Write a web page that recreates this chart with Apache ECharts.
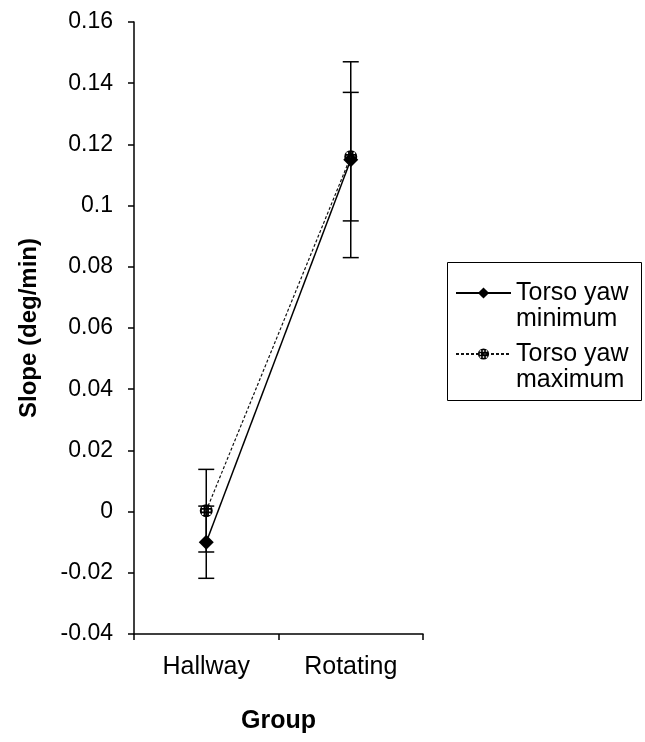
<!DOCTYPE html>
<html>
<head>
<meta charset="utf-8">
<script src="https://cdn.jsdelivr.net/npm/echarts@6/dist/echarts.min.js"></script>
<style>
  html, body { margin: 0; padding: 0; background: #fff; }
  #chart { width: 645px; height: 742px; }
</style>
</head>
<body>
<div id="chart"></div>
<script>
const groups = ['Hallway', 'Rotating'];
const yawMin = [-0.01, 0.115];
const yawMinErr = [0.0118, 0.032];
const yawMax = [0.0003, 0.116];
const yawMaxErr = [0.0135, 0.021];
const yMin = -0.04, yMax = 0.16, yStep = 0.02;

const FONT = '"Liberation Sans", Arial, sans-serif';

// dark dot with a grid of small holes, like the cross-hatched marker
function hatchSymbol() {
    let d = 'M0 3.5a3.5 3.5 0 1 0 7 0a3.5 3.5 0 1 0 -7 0z';
    [1.6, 3.5, 5.4].forEach(x => {
        [1.6, 3.5, 5.4].forEach(y => {
            d += `M${x - 0.45} ${y - 0.45}h0.9v0.9h-0.9z`;
        });
    });
    return 'path://' + d;
}

function errData(vals, errs) {
    return vals.map((v, i) => [i, v - errs[i], v + errs[i]]);
}

function renderErr(params, api) {
    const lo = api.coord([api.value(0), api.value(1)]);
    const hi = api.coord([api.value(0), api.value(2)]);
    const w = 8;
    const st = { stroke: '#000', lineWidth: 1.5 };
    return {
        type: 'group',
        children: [
            { type: 'line', shape: { x1: lo[0], y1: lo[1], x2: hi[0], y2: hi[1] }, style: st },
            { type: 'line', shape: { x1: lo[0] - w, y1: lo[1], x2: lo[0] + w, y2: lo[1] }, style: st },
            { type: 'line', shape: { x1: hi[0] - w, y1: hi[1], x2: hi[0] + w, y2: hi[1] }, style: st }
        ]
    };
}

const chart = echarts.init(document.getElementById('chart'), null, { renderer: 'canvas' });

const option = {
    animation: false,
    backgroundColor: '#fff',
    textStyle: { fontFamily: FONT, color: '#000' },
    grid: { left: 134, right: 222, top: 22, bottom: 108, containLabel: false },
    legend: {
        data: ['Torso yaw minimum', 'Torso yaw maximum'],
        orient: 'vertical',
        left: 455,
        top: 254,
        padding: 0,
        itemGap: -17,
        itemWidth: 55,
        itemHeight: 14,
        // blank first line so the icon sits level with "Torso yaw"
        formatter: name => ' \n' + name.replace(' yaw ', ' yaw\n'),
        textStyle: { fontFamily: FONT, fontSize: 25, lineHeight: 26, color: '#000' }
    },
    graphic: [{
        type: 'rect',
        shape: { x: 447.5, y: 262.5, width: 194, height: 138 },
        style: { fill: 'none', stroke: '#000', lineWidth: 1 }
    }],
    xAxis: {
        type: 'category',
        data: groups,
        name: 'Group',
        nameLocation: 'middle',
        nameGap: 75,
        nameTextStyle: { fontFamily: FONT, fontSize: 25, fontWeight: 'bold', color: '#000' },
        axisLine: { onZero: false, lineStyle: { color: '#000', width: 1.5 } },
        axisTick: { show: true, length: 6, lineStyle: { color: '#000', width: 1.5 } },
        axisLabel: { fontFamily: FONT, fontSize: 25, color: '#000', margin: 21 },
        splitLine: { show: false }
    },
    yAxis: {
        type: 'value',
        min: yMin,
        max: yMax,
        interval: yStep,
        name: 'Slope (deg/min)',
        nameLocation: 'middle',
        nameGap: 93,
        nameTextStyle: { fontFamily: FONT, fontSize: 24, fontWeight: 'bold', color: '#000' },
        axisLine: { show: true, lineStyle: { color: '#000', width: 1.5 } },
        axisTick: { show: true, length: 6, lineStyle: { color: '#000', width: 1.5 } },
        axisLabel: { fontFamily: FONT, fontSize: 23, color: '#000', margin: 21 },
        splitLine: { show: false }
    },
    series: [
        {
            name: 'err min',
            type: 'custom',
            renderItem: renderErr,
            data: errData(yawMin, yawMinErr),
            encode: { x: 0, y: [1, 2] },
            z: 1,
            silent: true
        },
        {
            name: 'err max',
            type: 'custom',
            renderItem: renderErr,
            data: errData(yawMax, yawMaxErr),
            encode: { x: 0, y: [1, 2] },
            z: 1,
            silent: true
        },
        {
            name: 'Torso yaw minimum',
            type: 'line',
            data: yawMin,
            symbol: 'diamond',
            symbolSize: 15,
            itemStyle: { color: '#000', borderWidth: 0 },
            lineStyle: { color: '#000', width: 1.5 },
            z: 2
        },
        {
            name: 'Torso yaw maximum',
            type: 'line',
            data: yawMax,
            symbol: hatchSymbol(),
            symbolSize: 13,
            symbolKeepAspect: true,
            itemStyle: { color: '#000', borderWidth: 0 },
            lineStyle: { color: '#111', width: 1.2, type: [3, 2] },
            z: 3
        }
    ]
};

chart.setOption(option);
</script>
</body>
</html>
